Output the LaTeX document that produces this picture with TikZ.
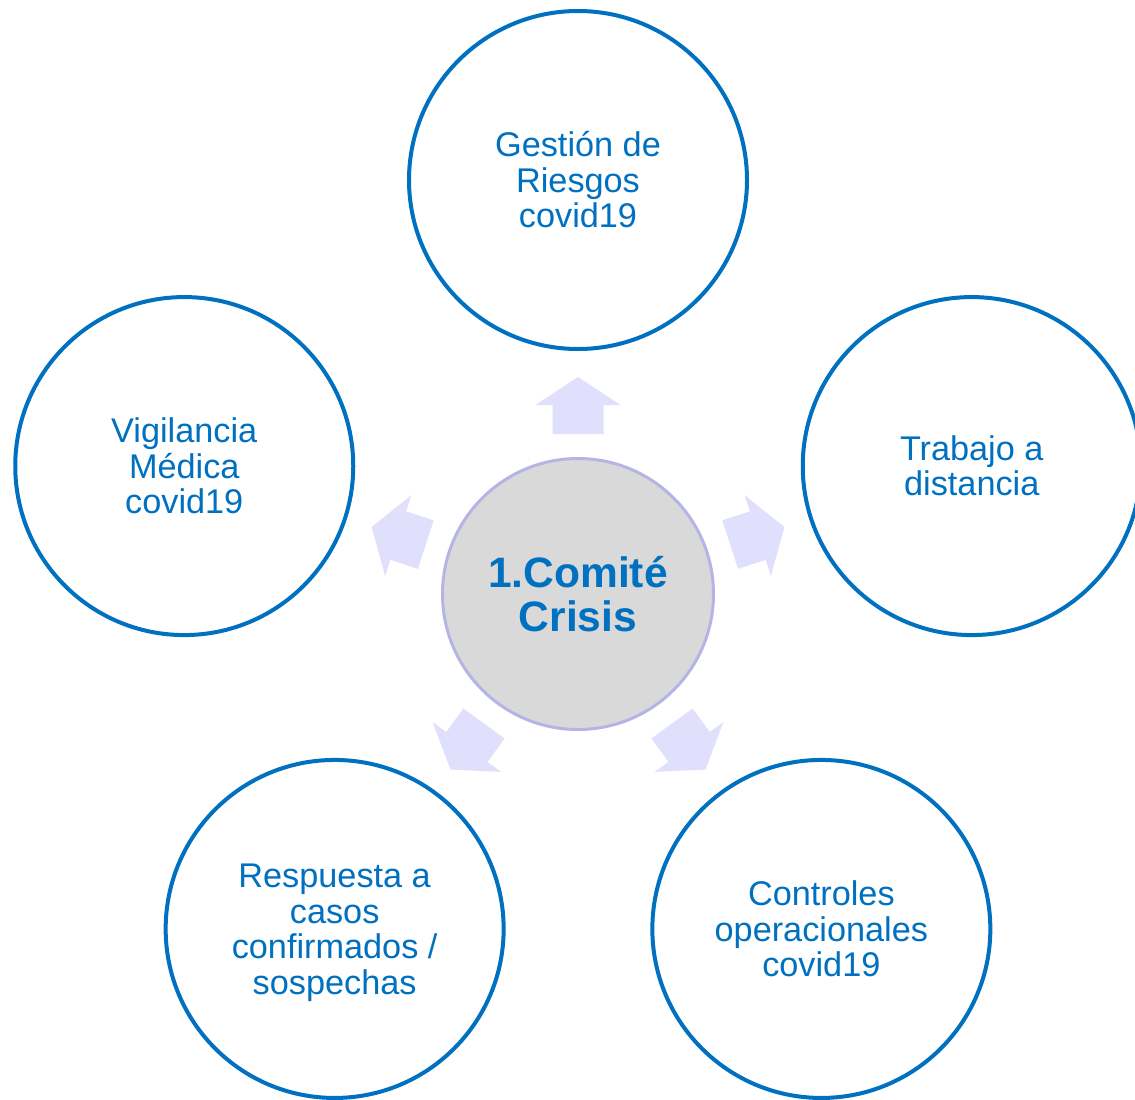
\documentclass[tikz,border=0pt]{standalone}
\usepackage{fontspec}
\setmainfont{Liberation Sans}
\definecolor{compblue}{HTML}{0070C0}
\definecolor{arrowlav}{HTML}{E0E0FC}
\definecolor{ringlav}{HTML}{B4B4E6}
\definecolor{coregray}{HTML}{D9D9D9}
\begin{document}
\begin{tikzpicture}[outer/.style={circle, draw=compblue, line width=0.08cm, fill=white, minimum size=6.76cm},
                    core/.style={circle, draw=ringlav, line width=0.06cm, fill=coregray, minimum size=5.42cm},
                    ringtext/.style={text=compblue, font=\fontsize{19.5}{20.2}\selectfont, yshift=-0.1cm},
                    coretext/.style={text=compblue, font=\fontsize{24.2}{24.5}\selectfont\bfseries, yshift=-0.12cm}]
            \useasboundingbox (-11.56,-10.10) rectangle (11.14,11.88);
            \node [core, label={[coretext]center:{\begin{tabular}{c}1.Comité\\Crisis\end{tabular}}}] (Comite) at (0,0) {};
            \node [outer, label={[ringtext]center:{\begin{tabular}{c}Gestión de\\Riesgos\\covid19\end{tabular}}}] (Riesgos) at (90:8.28) {};
            \node [outer, label={[ringtext]center:{\begin{tabular}{c}Trabajo a\\distancia\end{tabular}}}] (Distancia) at (18:8.28) {};
            \node [outer, label={[ringtext]center:{\begin{tabular}{c}Controles\\operacionales\\covid19\end{tabular}}}] (Controles) at (-54:8.28) {};
            \node [outer, label={[ringtext]center:{\begin{tabular}{c}Respuesta a\\casos\\confirmados /\\sospechas\end{tabular}}}] (Respuesta) at (-126:8.28) {};
            \node [outer, label={[ringtext]center:{\begin{tabular}{c}Vigilancia\\Médica\\covid19\end{tabular}}}] (Vigilancia) at (162:8.28) {};
            \foreach \a in {90,18,-54,-126,162}
                \fill[arrowlav, rotate=\a] (3.2,-0.51) -- (3.78,-0.51) -- (3.78,-0.85) -- (4.34,0) -- (3.78,0.85) -- (3.78,0.51) -- (3.2,0.51) -- cycle;
        \end{tikzpicture}
\end{document}
